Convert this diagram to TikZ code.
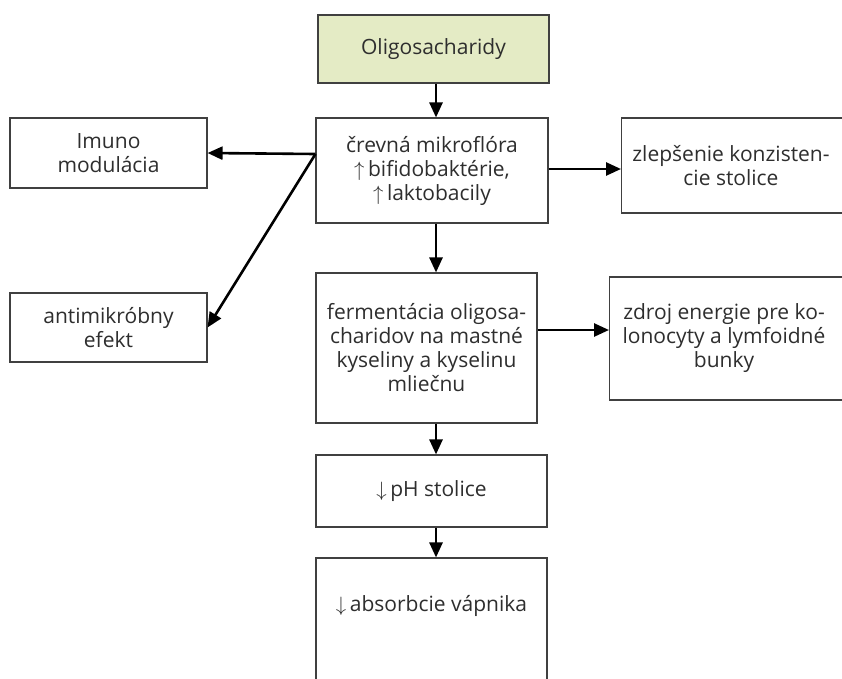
\documentclass[tikz,border=0pt]{standalone}
\usepackage{fontspec}
\setmainfont{Open Sans}
\usetikzlibrary{arrows.meta,calc}
\definecolor{boxline}{HTML}{404040}
\definecolor{txt}{HTML}{2E2E2E}
\definecolor{headfill}{HTML}{E4EBC5}
\newcommand{\upmark}{$\uparrow$\,}
\newcommand{\downmark}{$\downarrow$\,}
\begin{document}
\begin{tikzpicture}[x=1pt,y=-1pt,
  lbl/.style={text=txt, align=center, inner sep=0pt, font=\fontsize{21}{24}\selectfont},
  box/.style={lbl, draw=boxline, line width=1.1pt, fill=white},
  arr/.style={draw=black, line width=2.6pt, -{Triangle[length=15pt,width=13pt]}}]
\useasboundingbox (0,0) rectangle (842,678);
\clip (0,0) rectangle (842,678);
\fill[white] (0,0) rectangle (842,678);

% main column
\node[box, fill=headfill, minimum width=231pt, minimum height=68pt] (head) at (433.5,49) {Oligosacharidy};
\node[box, minimum width=232pt, minimum height=105pt] (flora) at (432,170.5)
  {črevná mikroflóra\\\upmark bifidobaktérie,\\\upmark laktobacily};
\node[box, minimum width=221pt, minimum height=150pt] (ferm) at (426.5,348)
  {fermentácia oligosa-\\charidov na mastné\\kyseliny a kyselinu\\mliečnu};
\node[box, minimum width=231pt, minimum height=72pt] (ph) at (431.5,491) {\downmark pH stolice};
\node[box, minimum width=231pt, minimum height=160pt] (abs) at (431.5,638) {};
\node[lbl] (abstxt) at (431.5,606) {\downmark absorbcie vápnika};

% left column
\node[box, minimum width=197pt, minimum height=70pt] (imuno) at (108.5,153) {Imuno\\modulácia};
\node[box, minimum width=197pt, minimum height=69pt] (anti) at (108.5,327.5) {antimikróbny\\efekt};

% right column (runs past the right edge)
\node[box, minimum width=260pt, minimum height=95pt, anchor=west] (cons) at (621,165.5) {};
\node[lbl] (constxt) at (731,165.5) {zlepšenie konzisten-\\cie stolice};
\node[box, minimum width=260pt, minimum height=123pt, anchor=west] (energy) at (609,338.5) {};
\node[lbl] (energytxt) at (724,338.5) {zdroj energie pre ko-\\lonocyty a lymfoidné\\bunky};

% connectors
\coordinate (axis) at (436,0);
\coordinate (split) at ($(flora.west)+(0,-16.5)$);
\coordinate (toCons) at ($(flora.east)+(0,-1.5)$);
\coordinate (toEnergy) at ($(ferm.east)+(0,-18)$);
\draw[arr] (axis |- head.south) -- (axis |- flora.north);
\draw[arr] (axis |- flora.south) -- (axis |- ferm.north);
\draw[arr] (axis |- ferm.south) -- (axis |- ph.north);
\draw[arr] (axis |- ph.south) -- (axis |- abs.north);
\draw[arr] (split) -- (imuno.east);
\draw[arr] (split) -- (anti.east);
\draw[arr] (toCons) -- (toCons -| cons.west);
\draw[arr] (toEnergy) -- (toEnergy -| energy.west);
\end{tikzpicture}
\end{document}
